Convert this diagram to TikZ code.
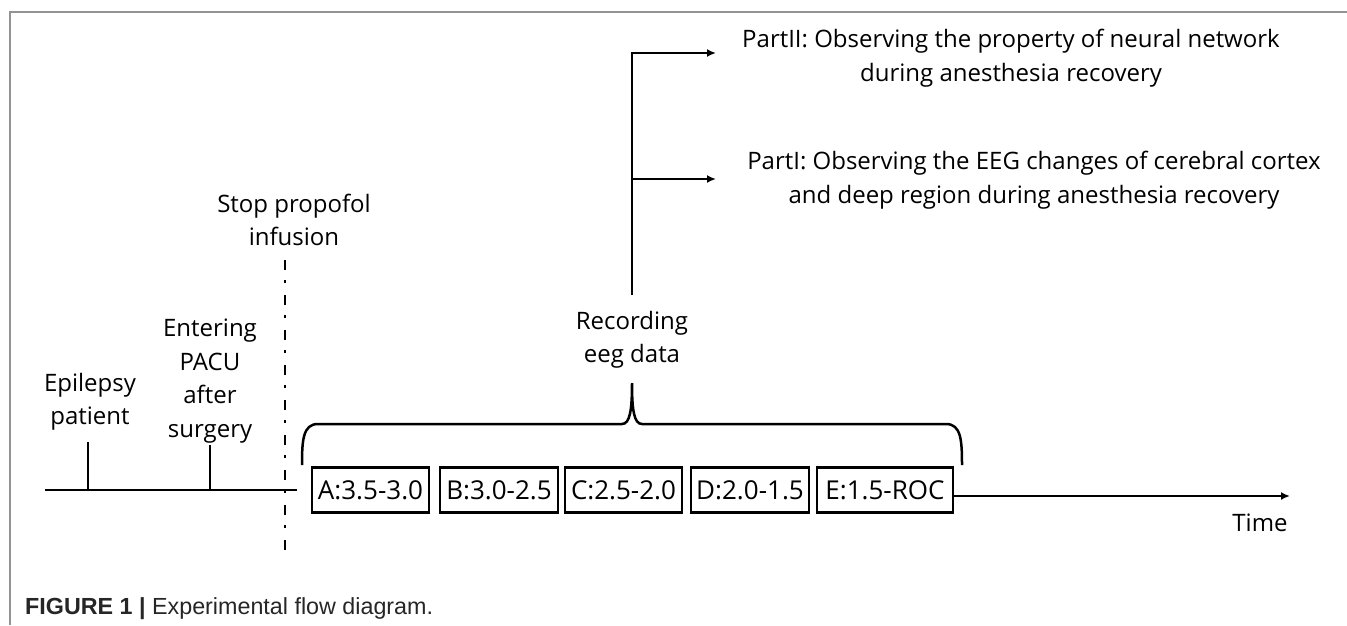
\documentclass[tikz,border=0pt]{standalone}
\usepackage{fontspec}
\setmainfont{Open Sans}
\newfontfamily\capfont{Liberation Sans}
\usetikzlibrary{arrows.meta}
\tikzset{
  lbl/.style={font=\fontsize{24}{33.5}\selectfont, align=center, inner sep=0pt},
  seg/.style={draw, line width=2.7pt, minimum height=45pt, inner sep=0pt, font=\fontsize{26}{30}\selectfont},
  ln/.style={line width=2.7pt},
  arr/.style={ln, -{Latex[length=9pt,width=8pt]}},
  frame/.style={draw=gray!85, line width=1.6pt},
  dd/.style={line width=2.4pt, dash pattern=on 10pt off 10pt on 3pt off 12pt}
}
\begin{document}
\begin{tikzpicture}[x=1pt,y=-1pt]
\useasboundingbox (0,0) rectangle (1347,625);
% frame
\draw[frame] (1347,12) -- (10,12) -- (10,625);
% caption
\node[anchor=west, inner sep=0pt, text=black!85, font=\capfont\fontsize{23.3}{26}\selectfont] (cap) at (25,609) {\textbf{FIGURE 1 | }Experimental flow diagram.};
% boxes
\node[seg, minimum width=117pt] (A) at (370.5,490) {A:3.5-3.0};
\node[seg, minimum width=118pt] (B) at (499,490) {B:3.0-2.5};
\node[seg, minimum width=117pt] (C) at (623.5,490) {C:2.5-2.0};
\node[seg, minimum width=118pt] (D) at (750,490) {D:2.0-1.5};
\node[seg, minimum width=136pt] (E) at (885,490) {E:1.5-ROC};
% timeline left
\coordinate (t0) at (45,490);
\coordinate (t1) at (297,490);
\draw[ln] (t0) -- (t1);
\coordinate (k1) at (88,490);
\coordinate (k1t) at (88,442);
\coordinate (k2) at (210,490);
\coordinate (k2t) at (210,445);
\draw[ln] (k1) -- (k1t);
\draw[ln] (k2) -- (k2t);
% timeline right
\coordinate (tend) at (1290,496);
\draw[arr] (E.east |- tend) -- (tend);
\node[lbl] (time) at (1260,523) {Time};
% dashed stop line
\coordinate (s0) at (285,260);
\coordinate (s1) at (285,560);
\draw[dd] (s0) -- (s1);
% labels
\node[lbl] (epi) at (90,402) {Epilepsy\\patient};
\node[lbl] (pacu) at (210,381) {Entering\\PACU\\after\\surgery};
\node[lbl] (stop) at (294,220) {Stop propofol\\infusion};
\node[lbl] (rec) at (632,340) {Recording\\eeg data};
% brace
\draw[line width=2.5pt] (302,465) .. controls (302,440) and (303,424) .. (318,424) -- (622,424) .. controls (630,424) and (632,410) .. (632,383) .. controls (632,410) and (634,424) .. (642,424) -- (946,424) .. controls (961,424) and (962,440) .. (962,465);
% branches
\coordinate (v0) at (632,295);
\coordinate (v1) at (632,53);
\coordinate (v2) at (632,179);
\coordinate (a1) at (716,53);
\coordinate (a2) at (716,179);
\draw[ln] (v0) -- (v1);
\draw[arr] ([xshift=-1.35pt]v1) -- (a1);
\draw[arr] (v2) -- (a2);
\node[lbl] (p2) at (1011,58) {PartII: Observing the property of neural network\\during anesthesia recovery};
\node[lbl] (p1) at (1034,180) {PartI: Observing the EEG changes of cerebral cortex\\and deep region during anesthesia recovery};
\end{tikzpicture}
\end{document}
